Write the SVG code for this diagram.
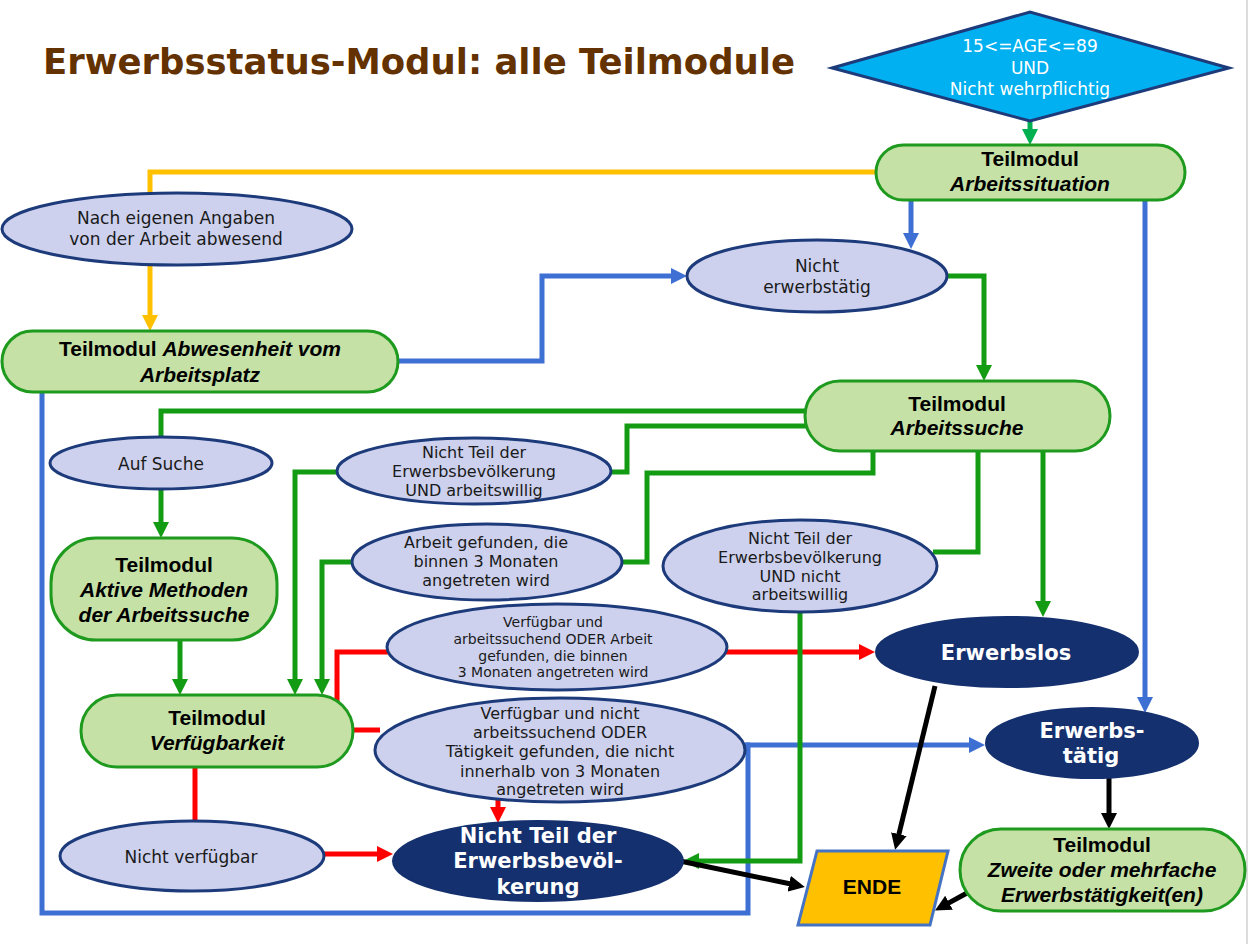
<svg xmlns="http://www.w3.org/2000/svg" width="1250" height="944" viewBox="0 0 1250 944">
<style>
.ln{fill:none;stroke-width:5;stroke-linejoin:miter}
.g{stroke:#139C13}
.b{stroke:#3E6FD3}
.y{stroke:#FFC000}
.r{stroke:#FF0000}
.k{stroke:#000}
.lav{fill:#CDD1EE;stroke:#1D3B7B;stroke-width:3}
.mod{fill:#C5E1A5;stroke:#1E9A1E;stroke-width:3}
.dark{fill:#15306E;stroke:#15306E;stroke-width:2}
.t{font-family:"DejaVu Sans",Verdana,sans-serif;fill:#1a1a1a;text-anchor:middle}
.tm{font-family:"Liberation Sans",Arial,sans-serif;font-weight:bold;font-size:21px;fill:#000;text-anchor:middle}
.it{font-style:italic}
.tw{font-family:"DejaVu Sans",Verdana,sans-serif;font-weight:bold;font-size:21px;fill:#fff;text-anchor:middle}
</style>
<defs>
<marker id="ag" markerUnits="userSpaceOnUse" markerWidth="16" markerHeight="16" viewBox="0 0 16 16" refX="8" refY="8" orient="auto"><path d="M0,0 L16,8 L0,16 z" fill="#139C13"/></marker>
<marker id="ag2" markerUnits="userSpaceOnUse" markerWidth="16" markerHeight="16" viewBox="0 0 16 16" refX="8" refY="8" orient="auto"><path d="M0,0 L16,8 L0,16 z" fill="#00B050"/></marker>
<marker id="ab" markerUnits="userSpaceOnUse" markerWidth="16" markerHeight="16" viewBox="0 0 16 16" refX="8" refY="8" orient="auto"><path d="M0,0 L16,8 L0,16 z" fill="#3E6FD3"/></marker>
<marker id="ay" markerUnits="userSpaceOnUse" markerWidth="16" markerHeight="16" viewBox="0 0 16 16" refX="8" refY="8" orient="auto"><path d="M0,0 L16,8 L0,16 z" fill="#FFC000"/></marker>
<marker id="ar" markerUnits="userSpaceOnUse" markerWidth="16" markerHeight="16" viewBox="0 0 16 16" refX="8" refY="8" orient="auto"><path d="M0,0 L16,8 L0,16 z" fill="#FF0000"/></marker>
<marker id="ak" markerUnits="userSpaceOnUse" markerWidth="16" markerHeight="16" viewBox="0 0 16 16" refX="8" refY="8" orient="auto"><path d="M0,0 L16,8 L0,16 z" fill="#000"/></marker>
</defs>
<rect x="0" y="0" width="1250" height="944" fill="#fff"/>
<line x1="1247" y1="0" x2="1247" y2="944" stroke="#d0d0d0" stroke-width="1.5"/>
<text x="43" y="74" font-family="'DejaVu Sans',Verdana,sans-serif" font-weight="bold" font-size="36" fill="#633200" textLength="752" lengthAdjust="spacingAndGlyphs">Erwerbsstatus-Modul: alle Teilmodule</text>

<g id="connectors">
<path class="ln" d="M1030,120 V137" stroke="#00B050" marker-end="url(#ag2)"/>
<path class="ln y" d="M880,172 H150 V323" marker-end="url(#ay)"/>
<path class="ln b" d="M390,361 H542 V276 H679" marker-end="url(#ab)"/>
<path class="ln b" d="M911,200 V241" marker-end="url(#ab)"/>
<path class="ln b" d="M1145,200 V705" marker-end="url(#ab)"/>
<path class="ln g" d="M940,276 H984 V373" marker-end="url(#ag)"/>
<path class="ln g" d="M830,411 H161 V440"/>
<path class="ln g" d="M830,426 H627 V472 H605"/>
<path class="ln g" d="M342,472 H295 V687" marker-end="url(#ag)"/>
<path class="ln g" d="M873,448 V473 H647 V562 H618"/>
<path class="ln g" d="M356,562 H322 V687" marker-end="url(#ag)"/>
<path class="ln g" d="M978,448 V552 H933"/>
<path class="ln g" d="M1043,448 V609" marker-end="url(#ag)"/>
<path class="ln g" d="M161,488 V530" marker-end="url(#ag)"/>
<path class="ln g" d="M180,638 V687" marker-end="url(#ag)"/>
<path class="ln r" d="M337,705 V652 H392"/>
<path class="ln r" d="M724,652 H867" marker-end="url(#ar)"/>
<path class="ln r" d="M350,730 H380"/>
<path class="ln r" d="M498,800 V815" marker-end="url(#ar)"/>
<path class="ln r" d="M195,765 V823"/>
<path class="ln r" d="M320,854 H385" marker-end="url(#ar)"/>
<path class="ln b" d="M42,390 V913 H748 V745 H977" marker-end="url(#ab)"/>
<path class="ln b" d="M742,745 H750"/>
<path class="ln g" d="M800,610 V861 H691" marker-end="url(#ag)"/>
<path class="ln k" d="M935,686 L897,842" marker-end="url(#ak)"/>
<path class="ln k" d="M1109,776 V821" marker-end="url(#ak)"/>
<path class="ln k" d="M967,893 L942,906.6" marker-end="url(#ak)"/>
<path class="ln k" d="M680,861 L797,885.3" marker-end="url(#ak)"/>
</g>

<g id="n-start">
<polygon points="832,68 1030,12 1229,68 1030,121" fill="#00B0F0" stroke="#1D3B7B" stroke-width="3"/>
<text font-family="'DejaVu Sans',Verdana,sans-serif" font-size="17" fill="#fff" text-anchor="middle"><tspan x="1030" y="52">15&lt;=AGE&lt;=89</tspan><tspan x="1030" y="73.5">UND</tspan><tspan x="1030" y="95">Nicht wehrpflichtig</tspan></text>
</g>
<g id="n-arbeitssituation">
<rect class="mod" x="876" y="145" width="309" height="55" rx="27.5"/>
<text class="tm"><tspan x="1030" y="166">Teilmodul</tspan><tspan class="it" x="1030" y="191">Arbeitssituation</tspan></text>
</g>
<g id="n-abwesend">
<ellipse class="lav" cx="177" cy="229" rx="175" ry="36"/>
<text class="t" font-size="17"><tspan x="176" y="224">Nach eigenen Angaben</tspan><tspan x="176" y="245">von der Arbeit abwesend</tspan></text>
</g>
<g id="n-abwesenheit">
<rect class="mod" x="2" y="331" width="396" height="61" rx="30.5"/>
<text class="tm"><tspan x="200" y="356">Teilmodul <tspan class="it">Abwesenheit vom</tspan></tspan><tspan class="it" x="200" y="382">Arbeitsplatz</tspan></text>
</g>
<g id="n-nicht-erwerbstaetig">
<ellipse class="lav" cx="817" cy="276" rx="130" ry="36"/>
<text class="t" font-size="17"><tspan x="817" y="272">Nicht</tspan><tspan x="817" y="293">erwerbstätig</tspan></text>
</g>
<g id="n-arbeitssuche">
<rect class="mod" x="805" y="381" width="305" height="70" rx="35"/>
<text class="tm"><tspan x="957" y="411">Teilmodul</tspan><tspan class="it" x="957" y="435">Arbeitssuche</tspan></text>
</g>
<g id="n-auf-suche">
<ellipse class="lav" cx="161" cy="463" rx="111" ry="26"/>
<text class="t" font-size="17" x="161" y="470">Auf Suche</text>
</g>
<g id="n-aktive">
<rect class="mod" x="51" y="538" width="226" height="102" rx="45"/>
<text class="tm"><tspan x="164" y="572">Teilmodul</tspan><tspan class="it" x="164" y="597">Aktive Methoden</tspan><tspan class="it" x="164" y="622">der Arbeitssuche</tspan></text>
</g>
<g id="n-nt-willig">
<ellipse class="lav" cx="474" cy="471" rx="137" ry="33"/>
<text class="t" font-size="16"><tspan x="474" y="458">Nicht Teil der</tspan><tspan x="474" y="477">Erwerbsbevölkerung</tspan><tspan x="474" y="496">UND arbeitswillig</tspan></text>
</g>
<g id="n-arbeit-gefunden">
<ellipse class="lav" cx="487" cy="562" rx="135" ry="38"/>
<text class="t" font-size="16"><tspan x="486" y="548">Arbeit gefunden, die</tspan><tspan x="486" y="567">binnen 3 Monaten</tspan><tspan x="486" y="586">angetreten wird</tspan></text>
</g>
<g id="n-nt-nicht-willig">
<ellipse class="lav" cx="800" cy="566" rx="137" ry="46"/>
<text class="t" font-size="16"><tspan x="800" y="544">Nicht Teil der</tspan><tspan x="800" y="563">Erwerbsbevölkerung</tspan><tspan x="800" y="582">UND nicht</tspan><tspan x="800" y="600">arbeitswillig</tspan></text>
</g>
<g id="n-verf-suchend">
<ellipse class="lav" cx="557" cy="647" rx="170" ry="43"/>
<text class="t" font-size="14"><tspan x="553" y="627">Verfügbar und</tspan><tspan x="553" y="644">arbeitssuchend ODER Arbeit</tspan><tspan x="553" y="661">gefunden, die binnen</tspan><tspan x="553" y="677">3 Monaten angetreten wird</tspan></text>
</g>
<g id="n-verf-nicht-suchend">
<ellipse class="lav" cx="560" cy="750" rx="185" ry="52"/>
<text class="t" font-size="16"><tspan x="560" y="719">Verfügbar und nicht</tspan><tspan x="560" y="738">arbeitssuchend ODER</tspan><tspan x="560" y="757">Tätigkeit gefunden, die nicht</tspan><tspan x="560" y="777">innerhalb von 3 Monaten</tspan><tspan x="560" y="795">angetreten wird</tspan></text>
</g>
<g id="n-verfuegbarkeit">
<rect class="mod" x="81" y="695" width="272" height="72" rx="36"/>
<text class="tm"><tspan x="217" y="725">Teilmodul</tspan><tspan class="it" x="217" y="750">Verfügbarkeit</tspan></text>
</g>
<g id="n-nicht-verfuegbar">
<ellipse class="lav" cx="192" cy="856" rx="132" ry="35"/>
<text class="t" font-size="17" x="191" y="863">Nicht verfügbar</text>
</g>
<g id="n-erwerbslos">
<ellipse class="dark" cx="1007" cy="652" rx="131" ry="35"/>
<text class="tw" x="1006" y="660">Erwerbslos</text>
</g>
<g id="n-erwerbstaetig">
<ellipse class="dark" cx="1092" cy="743" rx="106" ry="35"/>
<text class="tw"><tspan x="1092" y="738">Erwerbs-</tspan><tspan x="1091" y="763">tätig</tspan></text>
</g>
<g id="n-nicht-teil">
<ellipse class="dark" cx="538" cy="861" rx="145" ry="40"/>
<text class="tw"><tspan x="538" y="843">Nicht Teil der</tspan><tspan x="538" y="868">Erwerbsbevöl-</tspan><tspan x="538" y="894">kerung</tspan></text>
</g>
<g id="n-ende">
<polygon points="817,851 948,851 930,925 798,925" fill="#FFC000" stroke="#4472C4" stroke-width="3"/>
<text class="tm" x="872" y="894">ENDE</text>
</g>
<g id="n-zweite">
<rect class="mod" x="960" y="829" width="285" height="82" rx="41"/>
<text class="tm"><tspan x="1102" y="852">Teilmodul</tspan><tspan class="it" x="1102" y="877">Zweite oder mehrfache</tspan><tspan class="it" x="1102" y="902">Erwerbstätigkeit(en)</tspan></text>
</g>
</svg>
